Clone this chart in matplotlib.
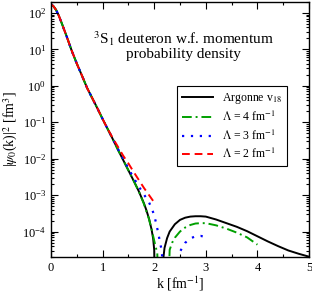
import numpy as np
import matplotlib
matplotlib.use("Agg")
import matplotlib.pyplot as plt
from matplotlib.ticker import LogLocator, MultipleLocator, NullFormatter

plt.rcParams['font.family'] = ['Liberation Serif', 'DejaVu Serif']
plt.rcParams['mathtext.fontset'] = 'stix'

# momentum k [fm^-1] and log10 of |psi_0(k)|^2 [fm^3]
# common low-k part (all curves coincide)
k_low = [0.0, 0.05, 0.1, 0.15, 0.2, 0.25, 0.3, 0.35, 0.4, 0.5, 0.6, 0.7, 0.8, 0.9, 1.0, 1.1]
lg_low = [2.24, 2.18, 2.08, 1.93, 1.75, 1.56, 1.37, 1.17, 0.97, 0.61, 0.28, -0.06, -0.34, -0.62, -0.91, -1.19]

# Argonne v18
k_av18_a = [1.2, 1.3, 1.4, 1.5, 1.6, 1.7, 1.8, 1.85, 1.9, 1.95, 1.98, 2.0, 2.015]
lg_av18_a = [-1.47, -1.76, -2.04, -2.32, -2.60, -2.89, -3.22, -3.42, -3.65, -3.95, -4.2, -4.5, -6.0]
k_av18_b = [2.165, 2.18, 2.2, 2.25, 2.3, 2.4, 2.5, 2.6, 2.7, 2.8, 2.9, 3.0, 3.2, 3.4, 3.6, 3.8, 4.0, 4.2, 4.4, 4.6, 4.8, 5.0]
lg_av18_b = [-6.0, -4.7, -4.45, -4.18, -4.0, -3.8, -3.68, -3.62, -3.59, -3.58, -3.58, -3.59, -3.67, -3.77, -3.87, -3.99, -4.13, -4.27, -4.40, -4.52, -4.61, -4.69]

# Lambda = 4 fm^-1
k_l4_a = [1.2, 1.3, 1.4, 1.5, 1.6, 1.7, 1.8, 1.9, 1.96, 2.0, 2.06, 2.085]
lg_l4_a = [-1.47, -1.76, -2.04, -2.32, -2.60, -2.89, -3.24, -3.66, -4.0, -4.25, -4.6, -6.0]
k_l4_b = [2.265, 2.3, 2.35, 2.4, 2.5, 2.6, 2.7, 2.8, 2.9, 3.0, 3.2, 3.4, 3.6, 3.8, 4.0]
lg_l4_b = [-6.0, -4.5, -4.3, -4.17, -4.0, -3.89, -3.82, -3.78, -3.77, -3.77, -3.83, -3.92, -4.03, -4.16, -4.36]

# Lambda = 3 fm^-1
k_l3_a = [1.2, 1.3, 1.4, 1.5, 1.6, 1.7, 1.8, 1.9, 1.95, 2.0, 2.05, 2.1, 2.15, 2.185]
lg_l3_a = [-1.46, -1.74, -2.0, -2.27, -2.52, -2.76, -2.98, -3.2, -3.36, -3.55, -3.85, -4.2, -4.56, -6.0]
k_l3_b = [2.435, 2.5, 2.6, 2.7, 2.8, 2.9, 3.0]
lg_l3_b = [-6.0, -4.55, -4.31, -4.19, -4.13, -4.12, -4.15]

# Lambda = 2 fm^-1
k_l2 = [1.2, 1.3, 1.4, 1.5, 1.6, 1.7, 1.8, 1.9, 1.98]
lg_l2 = [-1.44, -1.68, -1.92, -2.13, -2.36, -2.58, -2.80, -3.0, -3.16]

fig = plt.figure(figsize=(3.12, 2.94), dpi=100)
ax = fig.add_axes([51 / 312, 37 / 294, 258 / 312, 255 / 294])


def pw(ks, lgs):
    return np.array(ks), 10.0 ** np.array(lgs)


# argonne
x, y = pw(k_low + k_av18_a, lg_low + lg_av18_a)
ax.plot(x, y, color='black', lw=1.4, label='Argonne v$_{18}$')
x, y = pw(k_av18_b, lg_av18_b)
ax.plot(x, y, color='black', lw=1.4)

# lambda 4
green = '#00a000'
x, y = pw(k_low + k_l4_a, lg_low + lg_l4_a)
ax.plot(x, y, color=green, lw=1.4, dashes=(5, 2, 1, 2), label=r'$\Lambda$ = 4 fm$^{-1}$')
x, y = pw(k_l4_b, lg_l4_b)
ax.plot(x, y, color=green, lw=1.4, dashes=(5, 2, 1, 2))

# lambda 3
x, y = pw(k_low + k_l3_a, lg_low + lg_l3_a)
ax.plot(x, y, color='#0000ff', lw=1.6, dashes=(1, 3), label=r'$\Lambda$ = 3 fm$^{-1}$')
x, y = pw(k_l3_b, lg_l3_b)
ax.plot(x, y, color='#0000ff', lw=1.6, dashes=(1, 3))

# lambda 2
x, y = pw(k_low + k_l2, lg_low + lg_l2)
ax.plot(x, y, color='#ff0000', lw=1.4, dashes=(4, 2.5), label=r'$\Lambda$ = 2 fm$^{-1}$')

ax.set_yscale('log')
ax.set_xlim(0, 5)
ax.set_ylim(2e-5, 2e2)
ax.xaxis.set_major_locator(MultipleLocator(1))
ax.xaxis.set_minor_locator(MultipleLocator(0.5))
ax.yaxis.set_major_locator(LogLocator(base=10, numticks=20))
ax.yaxis.set_minor_locator(LogLocator(base=10, subs=np.arange(2, 10), numticks=20))
ax.yaxis.set_minor_formatter(NullFormatter())
ax.tick_params(which='both', direction='in', top=True, right=True, labelsize=9, width=0.8)
ax.tick_params(which='major', length=5)
ax.tick_params(which='minor', length=2.5)
for s in ax.spines.values():
    s.set_linewidth(1.0)

ax.set_xlabel('k [fm$^{-1}$]', fontsize=10)
ax.xaxis.set_label_coords(0.5, -0.07)
ax.set_ylabel(r'|$\psi_0$(k)|$^2$ [fm$^3$]', fontsize=10)
ax.yaxis.set_label_coords(-0.12, 0.5)

ax.text(0.515, 0.83, '$^3$S$_1$ deuteron w.f. momentum\nprobability density',
        transform=ax.transAxes, ha='center', va='center', fontsize=11, linespacing=0.95)

leg = ax.legend(loc='upper left', bbox_to_anchor=(0.49, 0.67), fontsize=8.5,
                frameon=True, fancybox=False, edgecolor='black', framealpha=1,
                handlelength=2.6, borderaxespad=0, labelspacing=0.35, handletextpad=0.8)
leg.get_frame().set_linewidth(0.8)

fig.savefig('out.png', dpi=100)
